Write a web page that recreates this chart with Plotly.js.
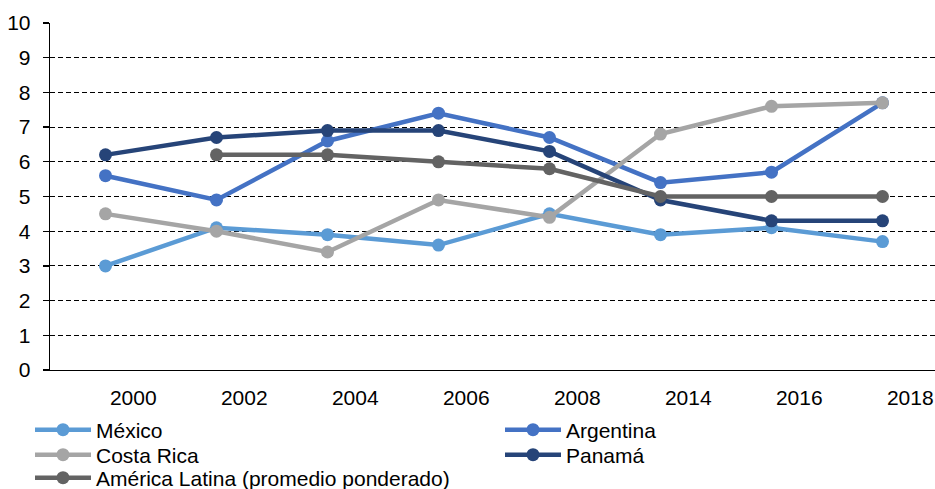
<!DOCTYPE html>
<html>
<head>
<meta charset="utf-8">
<script src="https://cdn.plot.ly/plotly-3.0.1.min.js"></script>
<style>html,body{margin:0;padding:0;background:#fff;}#chart{width:935px;height:489px;}</style>
</head>
<body>
<div id="chart"></div>
<script>
var years = ["2000", "2002", "2004", "2006", "2008", "2014", "2016", "2018"];
var mexico = [3.0, 4.1, 3.9, 3.6, 4.5, 3.9, 4.1, 3.7];
var argentina = [5.6, 4.9, 6.6, 7.4, 6.7, 5.4, 5.7, 7.7];
var costaRica = [4.5, 4.0, 3.4, 4.9, 4.4, 6.8, 7.6, 7.7];
var panama = [6.2, 6.7, 6.9, 6.9, 6.3, 4.9, 4.3, 4.3];
var americaLatina = [null, 6.2, 6.2, 6.0, 5.8, 5.0, 5.0, 5.0];
var seriesNames = ["México", "Argentina", "Costa Rica", "Panamá", "América Latina (promedio ponderado)"];
var yTicks = [0, 1, 2, 3, 4, 5, 6, 7, 8, 9, 10];

var colors = ["#5B9BD5", "#4472C4", "#A5A5A5", "#264478", "#636363"];
var seriesData = [mexico, argentina, costaRica, panama, americaLatina];
var legendIds = ["legend", "legend2", "legend3", "legend4", "legend5"];
var idx = years.map(function (_, i) { return i; });
var FONT = "'Liberation Sans', Arial, sans-serif";
var FS = 21;

var traces = seriesData.map(function (vals, k) {
  return {
    type: "scatter",
    mode: "lines+markers",
    name: seriesNames[k],
    legend: legendIds[k],
    x: idx,
    y: vals,
    connectgaps: false,
    line: { color: colors[k], width: 4.5 },
    marker: { color: colors[k], size: 13 },
    hoverinfo: "name+y"
  };
});

// plot area: left 50px, bottom 370px, 347px tall
function px2paperY(py) { return (370 - py) / 347; }
function px2paperX(px) { return (px - 50) / 885; }
function legendBox(px, py) {
  return {
    x: px2paperX(px), xanchor: "left",
    y: px2paperY(py), yanchor: "middle",
    orientation: "v",
    itemwidth: 56,
    font: { family: FONT, size: FS, color: "#000" },
    bgcolor: "rgba(0,0,0,0)",
    borderwidth: 0
  };
}

var xRange = [-0.5, 7.473];
var layout = {
  width: 935,
  height: 489,
  margin: { l: 50, r: 0, t: 23, b: 119, autoexpand: false },
  paper_bgcolor: "#fff",
  plot_bgcolor: "#fff",
  font: { family: FONT, color: "#000", size: FS },
  showlegend: true,
  legend: legendBox(30, 430),
  legend2: legendBox(500, 430),
  legend3: legendBox(30, 455),
  legend4: legendBox(500, 455),
  legend5: legendBox(30, 478),
  xaxis: {
    type: "linear",
    range: xRange,
    tickmode: "array",
    tickvals: idx.map(function (i) { return i + 0.25; }),
    ticktext: years,
    ticks: "outside",
    ticklen: 8,
    tickcolor: "rgba(0,0,0,0)",
    showgrid: false,
    zeroline: false,
    showline: true,
    linecolor: "#000",
    linewidth: 1.3,
    tickfont: { family: FONT, size: FS, color: "#000" },
    fixedrange: true
  },
  xaxis2: {
    type: "linear",
    overlaying: "x",
    anchor: "y",
    side: "bottom",
    range: xRange,
    tickmode: "array",
    tickvals: idx.concat([idx.length]).map(function (i) { return i - 0.5; }),
    ticks: "outside",
    ticklen: 6,
    tickwidth: 1.3,
    tickcolor: "#000",
    showticklabels: false,
    showgrid: false,
    zeroline: false,
    showline: false,
    fixedrange: true
  },
  yaxis: {
    range: [0, 10],
    tickmode: "array",
    tickvals: yTicks,
    ticktext: yTicks.map(String),
    ticks: "outside",
    ticklen: 6,
    tickwidth: 1.3,
    tickcolor: "#000",
    ticklabelstandoff: 8,
    showline: true,
    linecolor: "#000",
    linewidth: 1.3,
    showgrid: true,
    gridcolor: "#000",
    gridwidth: 1,
    griddash: "5px,3px",
    zeroline: false,
    tickfont: { family: FONT, size: FS, color: "#000" },
    fixedrange: true
  }
};

Plotly.newPlot("chart", traces, layout, { displayModeBar: false, staticPlot: true });
</script>
</body>
</html>
